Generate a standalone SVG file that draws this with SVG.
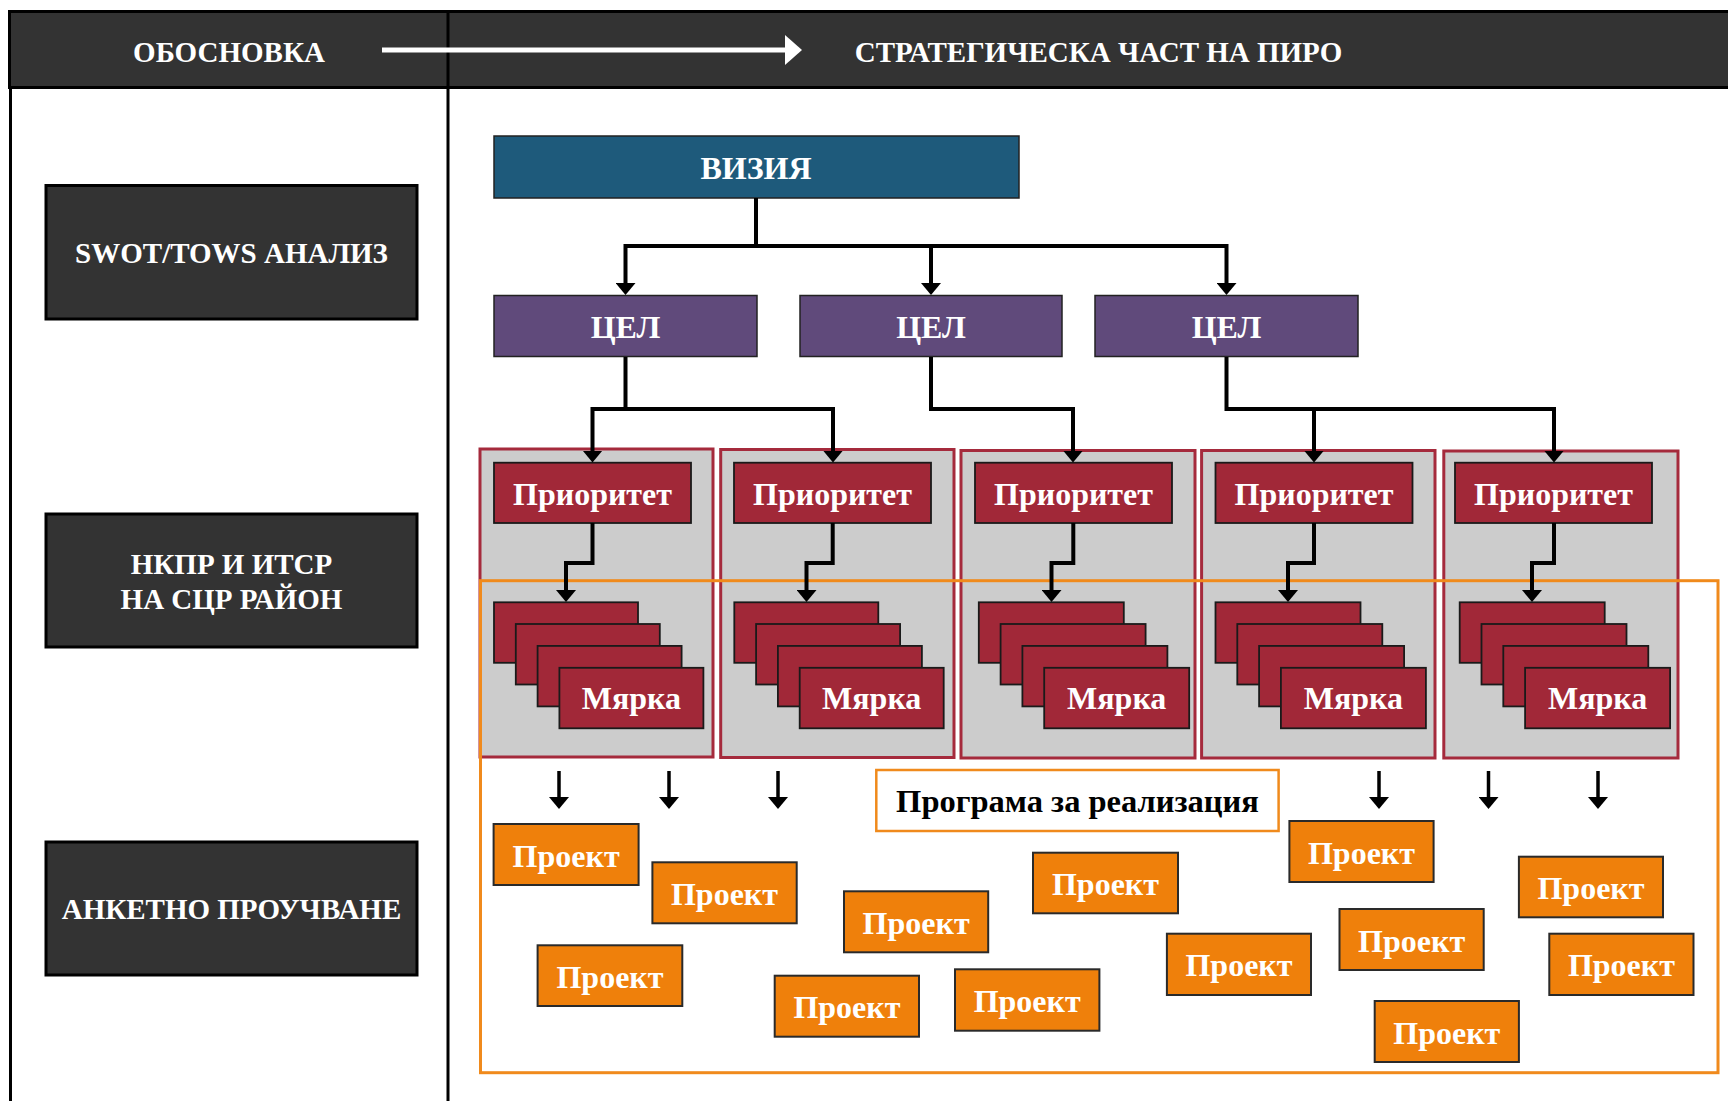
<svg xmlns="http://www.w3.org/2000/svg" width="1728" height="1101" viewBox="0 0 1728 1101">
<style>
text{font-family:"Liberation Serif","Times New Roman",serif;font-weight:bold;text-anchor:middle}
.w{fill:#fff}
.hdr{font-size:29px}
.lb{font-size:29px}
.m{font-size:32px}
.dark{fill:#333333;stroke:#000;stroke-width:3}
.viz{fill:#1E5A7B;stroke:#222;stroke-width:1.5}
.cel{fill:#604A7B;stroke:#222;stroke-width:1.5}
.cont{fill:#CCCCCC;stroke:#A52A3C;stroke-width:3}
.red{fill:#A12838;stroke:#1a1a1a;stroke-width:1.8}
.pr{fill:#EF800B;stroke:#2a2a2a;stroke-width:2}
.conn{fill:none;stroke:#000;stroke-width:4;stroke-linejoin:miter}
.sm{fill:none;stroke:#000;stroke-width:3.5}
</style>
<defs>
<marker id="ah" viewBox="0 0 12 20" refX="2" refY="10" markerWidth="12" markerHeight="20" markerUnits="userSpaceOnUse" orient="auto">
<path d="M0,0 L12,10 L0,20 z" fill="#000"/>
</marker>
<marker id="wah" viewBox="0 0 17 30" refX="2" refY="15" markerWidth="17" markerHeight="30" markerUnits="userSpaceOnUse" orient="auto">
<path d="M0,0 L17,15 L0,30 z" fill="#fff"/>
</marker>
</defs>
<rect width="1728" height="1101" fill="#fff"/>

<g id="frame">
<rect x="9.5" y="11.5" width="1722" height="76" fill="#333333" stroke="#000" stroke-width="3"/>
<line x1="10.5" y1="88" x2="10.5" y2="1101" stroke="#000" stroke-width="3"/>
<line x1="448" y1="11" x2="448" y2="1101" stroke="#000" stroke-width="3"/>
<line x1="382" y1="50" x2="787" y2="50" stroke="#fff" stroke-width="5" marker-end="url(#wah)"/>
<text class="w hdr" x="229" y="62">ОБОСНОВКА</text>
<text class="w hdr" x="1098.5" y="62">СТРАТЕГИЧЕСКА ЧАСТ НА ПИРО</text>
</g>

<g id="swot">
<rect class="dark" x="46" y="185.5" width="371" height="133.5"/>
<text class="w lb" x="231.5" y="263">SWOT/TOWS АНАЛИЗ</text>
</g>
<g id="nkpr">
<rect class="dark" x="46" y="514" width="371" height="133"/>
<text class="w lb" x="231.5" y="574">НКПР И ИТСР</text>
<text class="w lb" x="231.5" y="609">НА СЦР РАЙОН</text>
</g>
<g id="anketa">
<rect class="dark" x="46" y="842" width="371" height="133"/>
<text class="w lb" x="231.5" y="919">АНКЕТНО ПРОУЧВАНЕ</text>
</g>

<g id="vizia">
<rect class="viz" x="494" y="136" width="525" height="62"/>
<text class="w m" x="756" y="179">ВИЗИЯ</text>
</g>
<g id="cel1">
<rect class="cel" x="494" y="295.5" width="263" height="61"/>
<text class="w m" x="625.5" y="338">ЦЕЛ</text>
</g>
<g id="cel2">
<rect class="cel" x="800" y="295.5" width="262" height="61"/>
<text class="w m" x="931" y="338">ЦЕЛ</text>
</g>
<g id="cel3">
<rect class="cel" x="1095" y="295.5" width="263" height="61"/>
<text class="w m" x="1226.5" y="338">ЦЕЛ</text>
</g>

<g id="containers">
<rect class="cont" x="480" y="449" width="233" height="308"/>
<rect class="cont" x="720.7" y="449.5" width="233.3" height="308"/>
<rect class="cont" x="961" y="450.5" width="234" height="307.5"/>
<rect class="cont" x="1201.6" y="450.5" width="233.4" height="307.5"/>
<rect class="cont" x="1443.8" y="451" width="234.2" height="307"/>
</g>

<g id="programa-frame">
<rect x="480.5" y="580.7" width="1237.5" height="492" fill="none" stroke="#F08A1C" stroke-width="3"/>
</g>

<g id="prioritet1">
<rect class="red" x="494" y="462.7" width="197" height="60.3"/>
<text class="w m" x="592.5" y="505">Приоритет</text>
</g>
<g id="prioritet2">
<rect class="red" x="734" y="462.7" width="197" height="60.3"/>
<text class="w m" x="832.5" y="505">Приоритет</text>
</g>
<g id="prioritet3">
<rect class="red" x="975" y="462.7" width="197" height="60.3"/>
<text class="w m" x="1073.5" y="505">Приоритет</text>
</g>
<g id="prioritet4">
<rect class="red" x="1215.5" y="462.7" width="197" height="60.3"/>
<text class="w m" x="1314" y="505">Приоритет</text>
</g>
<g id="prioritet5">
<rect class="red" x="1455" y="462.7" width="197" height="60.3"/>
<text class="w m" x="1553.5" y="505">Приоритет</text>
</g>

<g id="myarka1">
<rect class="red" x="494" y="602.3" width="144" height="60.5"/>
<rect class="red" x="515.8" y="624" width="144" height="60.5"/>
<rect class="red" x="537.6" y="645.9" width="144" height="60.5"/>
<rect class="red" x="559.4" y="667.8" width="144" height="60.5"/>
<text class="w m" x="631.4" y="709.3">Мярка</text>
</g>
<g id="myarka2">
<rect class="red" x="734.3" y="602.3" width="144" height="60.5"/>
<rect class="red" x="756.1" y="624" width="144" height="60.5"/>
<rect class="red" x="777.9" y="645.9" width="144" height="60.5"/>
<rect class="red" x="799.7" y="667.8" width="144" height="60.5"/>
<text class="w m" x="871.7" y="709.3">Мярка</text>
</g>
<g id="myarka3">
<rect class="red" x="978.8" y="602.3" width="145" height="60.5"/>
<rect class="red" x="1000.6" y="624" width="145" height="60.5"/>
<rect class="red" x="1022.4" y="645.9" width="145" height="60.5"/>
<rect class="red" x="1044.2" y="667.8" width="145" height="60.5"/>
<text class="w m" x="1116.7" y="709.3">Мярка</text>
</g>
<g id="myarka4">
<rect class="red" x="1215.5" y="602.3" width="145" height="60.5"/>
<rect class="red" x="1237.3" y="624" width="145" height="60.5"/>
<rect class="red" x="1259.1" y="645.9" width="145" height="60.5"/>
<rect class="red" x="1280.9" y="667.8" width="145" height="60.5"/>
<text class="w m" x="1353.4" y="709.3">Мярка</text>
</g>
<g id="myarka5">
<rect class="red" x="1459.7" y="602.3" width="145" height="60.5"/>
<rect class="red" x="1481.5" y="624" width="145" height="60.5"/>
<rect class="red" x="1503.3" y="645.9" width="145" height="60.5"/>
<rect class="red" x="1525.1" y="667.8" width="145" height="60.5"/>
<text class="w m" x="1597.6" y="709.3">Мярка</text>
</g>

<g id="programa">
<rect x="876.3" y="770" width="402.3" height="61" fill="#fff" stroke="#F08A1C" stroke-width="2.5"/>
<text class="m" x="1077.5" y="811.7" fill="#000" style="font-size:32.5px">Програма за реализация</text>
</g>

<g id="proekti">
<g id="proekt1"><rect class="pr" x="493.6" y="824" width="145" height="61"/><text class="w m" x="566.1" y="866.5">Проект</text></g>
<g id="proekt2"><rect class="pr" x="652.4" y="862.3" width="144.3" height="61"/><text class="w m" x="724.5" y="904.8">Проект</text></g>
<g id="proekt3"><rect class="pr" x="537.6" y="945.3" width="144.7" height="60.7"/><text class="w m" x="610" y="987.8">Проект</text></g>
<g id="proekt4"><rect class="pr" x="844" y="891.3" width="144.2" height="61"/><text class="w m" x="916.1" y="933.8">Проект</text></g>
<g id="proekt5"><rect class="pr" x="774.7" y="975.7" width="144.3" height="61"/><text class="w m" x="846.9" y="1018.2">Проект</text></g>
<g id="proekt6"><rect class="pr" x="955" y="969.3" width="144.4" height="61.4"/><text class="w m" x="1027.2" y="1011.8">Проект</text></g>
<g id="proekt7"><rect class="pr" x="1033" y="852.7" width="145" height="60.6"/><text class="w m" x="1105.5" y="895.2">Проект</text></g>
<g id="proekt8"><rect class="pr" x="1166.9" y="933.7" width="144.1" height="61.3"/><text class="w m" x="1239" y="976.2">Проект</text></g>
<g id="proekt9"><rect class="pr" x="1289.4" y="821" width="144.2" height="61"/><text class="w m" x="1361.5" y="863.5">Проект</text></g>
<g id="proekt10"><rect class="pr" x="1339.5" y="909" width="144.2" height="61"/><text class="w m" x="1411.6" y="951.5">Проект</text></g>
<g id="proekt11"><rect class="pr" x="1374.7" y="1001" width="144.2" height="61"/><text class="w m" x="1446.8" y="1043.5">Проект</text></g>
<g id="proekt12"><rect class="pr" x="1518.9" y="856.7" width="144.1" height="60.6"/><text class="w m" x="1591" y="899.2">Проект</text></g>
<g id="proekt13"><rect class="pr" x="1549.3" y="933.7" width="144.2" height="61.3"/><text class="w m" x="1621.4" y="976.2">Проект</text></g>
</g>

<g id="connectors">
<path class="conn" d="M756,198 V246 H625.5 V285" marker-end="url(#ah)"/>
<path class="conn" d="M756,246 H931 V285" marker-end="url(#ah)"/>
<path class="conn" d="M931,246 H1226.5 V285" marker-end="url(#ah)"/>
<path class="conn" d="M625.5,357 V409 H592.5 V452.5" marker-end="url(#ah)"/>
<path class="conn" d="M625.5,409 H833 V452.5" marker-end="url(#ah)"/>
<path class="conn" d="M931,357 V409 H1073 V452.5" marker-end="url(#ah)"/>
<path class="conn" d="M1226.5,357 V409 H1314 V452.5" marker-end="url(#ah)"/>
<path class="conn" d="M1314,409 H1554 V452.5" marker-end="url(#ah)"/>
<path class="conn" d="M592.5,523 V563 H566 V592" marker-end="url(#ah)"/>
<path class="conn" d="M832.7,523 V563 H806.5 V592" marker-end="url(#ah)"/>
<path class="conn" d="M1073.3,523 V563 H1051.5 V592" marker-end="url(#ah)"/>
<path class="conn" d="M1314,523 V563 H1288 V592" marker-end="url(#ah)"/>
<path class="conn" d="M1554,523 V563 H1532 V592" marker-end="url(#ah)"/>
<path class="sm" d="M559,771 V799" marker-end="url(#ah)"/>
<path class="sm" d="M669,771 V799" marker-end="url(#ah)"/>
<path class="sm" d="M778,771 V799" marker-end="url(#ah)"/>
<path class="sm" d="M1379,771 V799" marker-end="url(#ah)"/>
<path class="sm" d="M1488.5,771 V799" marker-end="url(#ah)"/>
<path class="sm" d="M1598,771 V799" marker-end="url(#ah)"/>
</g>
</svg>
